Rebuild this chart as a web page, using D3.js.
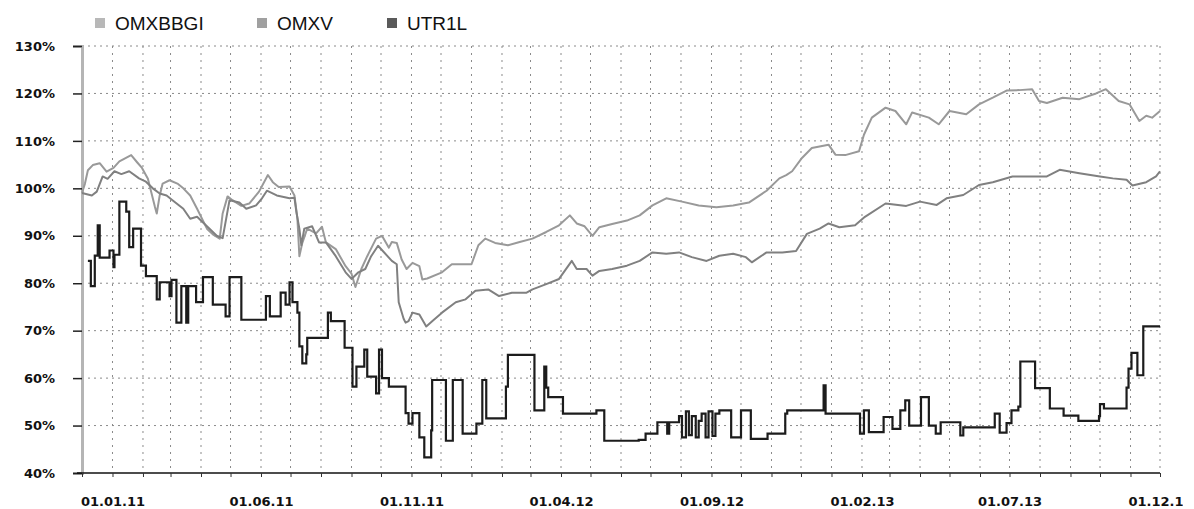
<!DOCTYPE html>
<html>
<head>
<meta charset="utf-8">
<script src="https://cdn.jsdelivr.net/npm/d3@7"></script>
<style>
  body { margin: 0; background: #fff; }
</style>
</head>
<body>
<div id="chart"></div>
<script>
// series names (legend order)
const seriesNames = ["OMXBBGI", "OMXV", "UTR1L"];

// date, percent
const omxbbgi = [
  ["01.12.10",99],["04.12.10",101],["07.12.10",103.8],["12.12.10",104.9],["19.12.10",105.3],["26.12.10",103.5],
  ["02.01.11",104.3],["08.01.11",105.7],["20.01.11",107],["26.01.11",105.5],["31.01.11",104.3],["06.02.11",102],
  ["13.02.11",96.2],["15.02.11",94.7],["18.02.11",98.5],["21.02.11",101],["28.02.11",101.7],["08.03.11",101],
  ["14.03.11",100],["21.03.11",98.5],["28.03.11",95.7],["07.04.11",91.5],["13.04.11",90.3],["20.04.11",89.4],
  ["23.04.11",94.7],["28.04.11",98.3],["03.05.11",97.5],["12.05.11",96.3],["20.05.11",96.8],["30.05.11",99.3],
  ["08.06.11",102.8],["13.06.11",101.3],["19.06.11",100.3],["30.06.11",100.4],["05.07.11",98.5],["08.07.11",93.6],
  ["10.07.11",85.7],["13.07.11",88.5],["18.07.11",91.5],["27.07.11",90.5],["02.08.11",91.9],["06.08.11",88.6],
  ["16.08.11",87.2],["26.08.11",83.6],["01.09.11",82],["05.09.11",79.2],["11.09.11",83],["17.09.11",85.7],
  ["26.09.11",89.4],["02.10.11",90],["09.10.11",87.5],["12.10.11",88.7],["17.10.11",88.5],["22.10.11",85],
  ["27.10.11",83],["02.11.11",84.3],["09.11.11",83.6],["12.11.11",80.8],["17.11.11",81],["02.12.11",82.3],
  ["12.12.11",84],["01.01.12",84],["08.01.12",88],["15.01.12",89.4],["25.01.12",88.5],["07.02.12",88],
  ["19.02.12",88.7],["03.03.12",89.4],["17.03.12",90.8],["30.03.12",92.2],["10.04.12",94.3],["17.04.12",92.6],
  ["25.04.12",92],["03.05.12",90],["10.05.12",91.8],["23.05.12",92.5],["07.06.12",93.2],["20.06.12",94.3],
  ["03.07.12",96.4],["17.07.12",97.9],["02.08.12",97.2],["19.08.12",96.4],["06.09.12",96],["23.09.12",96.4],
  ["09.10.12",97],["27.10.12",99.5],["09.11.12",102.1],["16.11.12",102.8],["22.11.12",103.6],["02.12.12",106.4],
  ["12.12.12",108.5],["29.12.12",109.2],["05.01.13",107.1],["15.01.13",107],["29.01.13",107.8],["03.02.13",111.3],
  ["11.02.13",114.9],["25.02.13",117],["07.03.13",116.3],["18.03.13",113.5],["24.03.13",116],["10.04.13",114.9],
  ["20.04.13",113.5],["01.05.13",116.3],["18.05.13",115.6],["31.05.13",117.7],["14.06.13",119.1],["28.06.13",120.6],
  ["11.07.13",120.7],["24.07.13",120.9],["31.07.13",118.4],["08.08.13",118],["24.08.13",119.1],["10.09.13",118.8],
  ["27.09.13",120],["07.10.13",120.9],["20.10.13",118.4],["31.10.13",117.7],["10.11.13",114.2],["17.11.13",115.3],
  ["23.11.13",114.9],["01.12.13",116.3]
];

const omxv = [
  ["01.12.10",99],["11.12.10",98.5],["16.12.10",99.3],["22.12.10",102.5],["27.12.10",102],["03.01.11",103.6],
  ["10.01.11",103],["18.01.11",103.6],["28.01.11",102.1],["04.02.11",101.4],["11.02.11",100],["18.02.11",98.9],
  ["25.02.11",98.5],["03.03.11",97.5],["14.03.11",95.7],["21.03.11",93.6],["28.03.11",94],["07.04.11",92],
  ["17.04.11",90],["23.04.11",89.5],["30.04.11",97.5],["10.05.11",97],["17.05.11",95.7],["27.05.11",96.4],
  ["02.06.11",97.9],["07.06.11",99.5],["17.06.11",98.5],["30.06.11",97.9],["05.07.11",98],["07.07.11",95],
  ["10.07.11",91.5],["12.07.11",88],["15.07.11",91.5],["23.07.11",92],["30.07.11",88.6],["06.08.11",88.6],
  ["16.08.11",85.7],["26.08.11",82.3],["01.09.11",80.9],["08.09.11",82.3],["15.09.11",83],["21.09.11",85.7],
  ["28.09.11",87.9],["12.10.11",84.7],["17.10.11",84],["19.10.11",76],["24.10.11",72.5],["26.10.11",71.7],
  ["29.10.11",72],["02.11.11",73.8],["09.11.11",73.4],["16.11.11",70.9],["22.11.11",72],["02.12.11",73.8],
  ["16.12.11",76],["26.12.11",76.6],["05.01.12",78.4],["18.01.12",78.7],["29.01.12",77.3],["11.02.12",78],
  ["26.02.12",78],["03.03.12",78.7],["17.03.12",79.8],["30.03.12",80.9],["12.04.12",84.7],["17.04.12",83],
  ["27.04.12",83],["03.05.12",81.6],["10.05.12",82.6],["23.05.12",83],["07.06.12",83.7],["20.06.12",84.7],
  ["03.07.12",86.5],["17.07.12",86.2],["30.07.12",86.5],["12.08.12",85.5],["27.08.12",84.7],["09.09.12",85.8],
  ["23.09.12",86.2],["06.10.12",85.5],["12.10.12",84.4],["27.10.12",86.5],["12.11.12",86.5],["26.11.12",86.8],
  ["07.12.12",90.4],["20.12.12",91.5],["29.12.12",92.6],["09.01.13",91.8],["25.01.13",92.2],["04.02.13",94],
  ["25.02.13",96.8],["18.03.13",96.3],["01.04.13",97.2],["18.04.13",96.5],["28.04.13",97.9],["15.05.13",98.6],
  ["31.05.13",100.7],["14.06.13",101.3],["04.07.13",102.5],["24.07.13",102.5],["08.08.13",102.5],["21.08.13",103.9],
  ["10.09.13",103.2],["01.10.13",102.5],["14.10.13",102.1],["28.10.13",101.8],["03.11.13",100.6],["17.11.13",101.3],
  ["27.11.13",102.5],["01.12.13",103.6]
];

// step series: each entry is where a new level starts
const utr1l = [
  ["07.12.10",84.7],["10.12.10",79.4],["14.12.10",85.8],["17.12.10",92.2],["19.12.10",85.4],["29.12.10",86.9],
  ["02.01.11",83.4],["03.01.11",86],["08.01.11",97.2],["15.01.11",95.1],["18.01.11",87.6],["22.01.11",91.5],
  ["30.01.11",83.7],["04.02.11",81.5],["15.02.11",76.6],["18.02.11",80.2],["28.02.11",77.3],["02.03.11",80.7],
  ["07.03.11",71.7],["12.03.11",79.4],["17.03.11",71.7],["19.03.11",79.4],["27.03.11",76],["03.04.11",81.3],
  ["13.04.11",75.5],["26.04.11",73],["30.04.11",81.3],["12.05.11",72.3],["06.06.11",77.3],["10.06.11",73],
  ["21.06.11",78],["26.06.11",75.5],["30.06.11",80.2],["03.07.11",76],["08.07.11",73.8],["10.07.11",66.7],
  ["13.07.11",63.1],["17.07.11",65],["18.07.11",68.5],["08.08.11",73.8],["11.08.11",72],["25.08.11",66.4],
  ["02.09.11",58.2],["06.09.11",62.4],["14.09.11",66],["17.09.11",60.3],["26.09.11",56.8],["29.09.11",66],
  ["02.10.11",60],["09.10.11",58.2],["26.10.11",52.6],["29.10.11",50.4],["02.11.11",52.6],["09.11.11",47.5],
  ["14.11.11",43.3],["21.11.11",49],["22.11.11",59.6],["06.12.11",46.8],["13.12.11",59.6],["23.12.11",48.3],
  ["06.01.12",50.4],["12.01.12",59.6],["16.01.12",51.5],["05.02.12",58.2],["07.02.12",64.9],["05.03.12",53.2],
  ["15.03.12",62.4],["17.03.12",58],["19.03.12",56],["03.04.12",52.5],["07.05.12",53.2],["15.05.12",46.8],
  ["19.06.12",47],["26.06.12",48.3],["08.07.12",50.7],["18.07.12",48.3],["20.07.12",50.7],["30.07.12",52],
  ["02.08.12",47.5],["06.08.12",53],["09.08.12",48],["12.08.12",52],["16.08.12",47.5],["19.08.12",51],
  ["22.08.12",52.5],["26.08.12",47.5],["29.08.12",53],["02.09.12",47.8],["05.09.12",52.5],["09.09.12",53.2],
  ["21.09.12",47.5],["01.10.12",53.2],["11.10.12",47.2],["28.10.12",48.3],["15.11.12",52.5],["17.11.12",53.2],
  ["24.12.12",58.5],["26.12.12",52.5],["30.01.13",48.3],["03.02.13",53.2],["08.02.13",48.6],["23.02.13",51.8],
  ["04.03.13",49.3],["12.03.13",53.2],["17.03.13",55.3],["21.03.13",50],["02.04.13",56],["10.04.13",50],
  ["17.04.13",48.3],["22.04.13",50.7],["12.05.13",47.9],["15.05.13",49.6],["16.06.13",52.5],["21.06.13",48.5],
  ["28.06.13",50.5],["03.07.13",53.2],["10.07.13",54],["12.07.13",63.5],["27.07.13",57.9],["11.08.13",53.6],
  ["25.08.13",52.1],["09.09.13",51],["30.09.13",52],["01.10.13",54.5],["05.10.13",53.6],["28.10.13",58],
  ["30.10.13",62],["02.11.13",65.3],["08.11.13",60.6],["14.11.13",70.9],["01.12.13",70.9]
];

const yTicks = [40, 50, 60, 70, 80, 90, 100, 110, 120, 130];
const xLabels = ["01.01.11", "01.06.11", "01.11.11", "01.04.12", "01.09.12", "01.02.13", "01.07.13", "01.12.13"];
const xStart = "01.12.10", xEnd = "01.12.13";

const parse = d3.timeParse("%d.%m.%y");
const W = 1194, H = 509;
const plot = { left: 82, right: 1160, top: 46, bottom: 473 };
const labelFont = "'DejaVu Sans', Verdana, sans-serif";

const x = d3.scaleTime().domain([parse(xStart), parse(xEnd)]).range([plot.left, plot.right]);
const y = d3.scaleLinear().domain([40, 130]).range([plot.bottom, plot.top]);

const svg = d3.select("#chart").append("svg")
  .attr("width", W).attr("height", H);

const defs = svg.append("defs");
defs.append("clipPath").attr("id", "labelclip")
  .append("rect").attr("x", 0).attr("y", 0).attr("width", 1183).attr("height", H);

// gridlines
const months = d3.timeMonth.range(parse(xStart), d3.timeDay.offset(parse(xEnd), 1));
svg.append("g")
  .selectAll("line").data(yTicks.slice(1)).enter().append("line")
    .attr("x1", plot.left).attr("x2", plot.right)
    .attr("y1", d => y(d)).attr("y2", d => y(d))
    .attr("stroke", "#8a8a8a").attr("stroke-width", 1)
    .attr("stroke-dasharray", "2,4");
svg.append("g")
  .selectAll("line").data(months.slice(1)).enter().append("line")
    .attr("x1", d => x(d)).attr("x2", d => x(d))
    .attr("y1", plot.top).attr("y2", plot.bottom)
    .attr("stroke", "#8a8a8a").attr("stroke-width", 1)
    .attr("stroke-dasharray", "2,5");

// y axis
const yAxis = svg.append("g")
  .attr("transform", `translate(${plot.left},0)`)
  .call(d3.axisLeft(y).tickValues(yTicks).tickSize(9).tickPadding(18).tickFormat(d => d + "%"));
yAxis.select(".domain").attr("stroke", "#b5b5b5").attr("stroke-width", 3);
yAxis.selectAll(".tick line").attr("stroke", "#222").attr("stroke-width", 1.5);
yAxis.selectAll("text").attr("fill", "#111")
  .style("font-family", labelFont).style("font-size", "13px").style("font-weight", "bold");

// x axis: monthly ticks
const xAxis = svg.append("g")
  .attr("transform", `translate(0,${plot.bottom})`)
  .call(d3.axisBottom(x).tickValues(months).tickSize(4).tickFormat(""));
xAxis.select(".domain").attr("stroke", "#111").attr("stroke-width", 1.5)
  .attr("d", `M${plot.left - 5},0H${plot.right}`);
xAxis.selectAll(".tick line").attr("stroke", "#333");

// x labels
const xLab = svg.append("g")
  .attr("transform", `translate(0,${plot.bottom})`)
  .attr("clip-path", "url(#labelclip)")
  .call(d3.axisBottom(x).tickValues(xLabels.map(parse)).tickSize(0).tickPadding(24)
    .tickFormat(d3.timeFormat("%d.%m.%y")));
xLab.select(".domain").remove();
xLab.selectAll("text").attr("fill", "#111")
  .style("font-family", labelFont).style("font-size", "13px").style("font-weight", "bold");

// lines
const line = d3.line().x(d => x(parse(d[0]))).y(d => y(d[1]));
const stepLine = d3.line().x(d => x(parse(d[0]))).y(d => y(d[1])).curve(d3.curveStepAfter);

svg.append("path").datum(omxbbgi)
  .attr("fill", "none").attr("stroke", "#999").attr("stroke-width", 2)
  .attr("stroke-linejoin", "round").attr("d", line);
svg.append("path").datum(omxv)
  .attr("fill", "none").attr("stroke", "#808080").attr("stroke-width", 2)
  .attr("stroke-linejoin", "round").attr("d", line);
svg.append("path").datum(utr1l)
  .attr("fill", "none").attr("stroke", "#1c1c1c").attr("stroke-width", 2.2)
  .attr("d", stepLine);

// legend
const legendX = [95, 257, 387];
const legendFill = ["#b8b8b8", "#a0a0a0", "#5a5a5a"];
const lg = svg.append("g").selectAll("g").data(seriesNames).enter().append("g")
  .attr("transform", (d, i) => `translate(${legendX[i]},23)`);
lg.append("rect").attr("x", 0).attr("y", -5).attr("width", 10).attr("height", 10)
  .attr("fill", (d, i) => legendFill[i]);
lg.append("text").attr("x", 20).attr("dy", "0.35em")
  .style("font-family", "'Liberation Sans', Arial, sans-serif")
  .style("font-size", "19px").attr("fill", "#111")
  .text(d => d);
</script>
</body>
</html>
